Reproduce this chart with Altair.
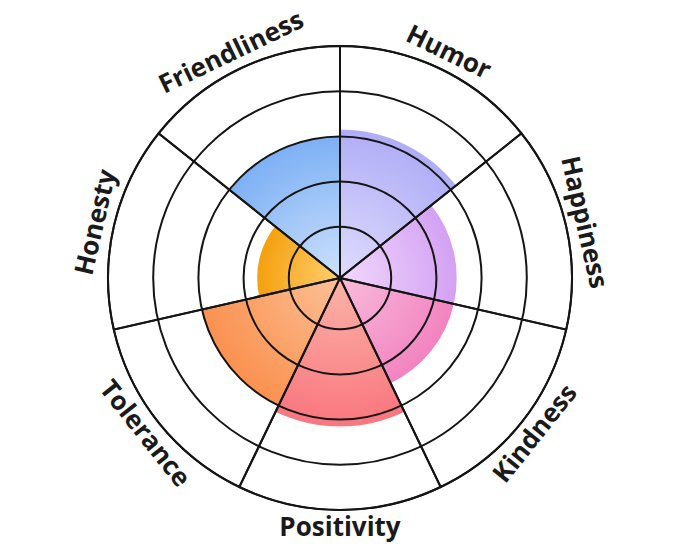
import math
import altair as alt
import pandas as pd

# ---- data ----
CATS = ["Humor", "Happiness", "Kindness", "Positivity", "Tolerance", "Honesty", "Friendliness"]
VALUES = [3.15, 2.45, 2.45, 3.15, 3.0, 1.7, 3.0]
INNER = ["#dfdcfd", "#f1d8fc", "#f8bcdc", "#fbb3a8", "#fcc095", "#ffd070", "#cde1fc"]
OUTER = ["#b0adf6", "#d3a1f3", "#f283c0", "#f9777f", "#fa9150", "#f5a00e", "#7db0f4"]
RINGS = [1, 2, 3, 4, 5]

N = len(CATS)
R_MIN, R_MAX = 6, 232
RMAX_VAL = 5
LABEL_R = 250
LINE = "#151515"

df = pd.DataFrame({
    "cat": CATS,
    "value": VALUES,
    "s0": list(range(N)),
    "s1": [i + 1 for i in range(N)],
    "mid": [i + 0.5 for i in range(N)],
    "full": [RMAX_VAL] * N,
})

# label rotation (tangent, upright)
rots = []
for i in range(N):
    a = (i + 0.5) * 360 / N
    if a <= 90 or a >= 270:
        r = a
    else:
        r = a - 180
    rots.append(r % 360)
df["rot"] = rots

theta_scale = alt.Scale(domain=[0, N], range=[0, 2 * math.pi])
r_scale = alt.Scale(type="linear", domain=[0, RMAX_VAL], range=[R_MIN, R_MAX])


def px(v):
    return R_MIN + (R_MAX - R_MIN) * v / RMAX_VAL


def gradient_for(i, v):
    r = px(v)
    a0 = i * 2 * math.pi / N
    a1 = (i + 1) * 2 * math.pi / N
    pts = [(0.0, 0.0)]
    for a in [a0, a1] + [k * math.pi / 2 for k in range(5) if a0 < k * math.pi / 2 < a1]:
        pts.append((r * math.sin(a), -r * math.cos(a)))
    xs = [p[0] for p in pts]
    ys = [p[1] for p in pts]
    xmin, xmax, ymin, ymax = min(xs), max(xs), min(ys), max(ys)
    w, h = xmax - xmin, ymax - ymin
    S = max(w, h)
    u = 0.5 + (0 - (xmin + xmax) / 2) / S
    vv = 0.5 + (0 - (ymin + ymax) / 2) / S
    return alt.RadialGradient(
        gradient="radial",
        stops=[alt.GradientStop(offset=0, color=INNER[i]),
               alt.GradientStop(offset=1, color=OUTER[i])],
        x1=u, y1=vv, r1=0, x2=u, y2=vv, r2=r / S,
    )


layers = []
for i, c in enumerate(CATS):
    layers.append(
        alt.Chart(df)
        .transform_filter(alt.datum.cat == c)
        .mark_arc(fill=gradient_for(i, VALUES[i]), strokeWidth=0)
        .encode(
            theta=alt.Theta("s0:Q", scale=theta_scale),
            theta2="s1:Q",
            radius=alt.Radius("value:Q", scale=r_scale, stack=None),
            radius2=alt.value(0),
        )
    )

rings = (
    alt.Chart(pd.DataFrame({"ring": RINGS}))
    .mark_arc(filled=False, stroke=LINE, strokeWidth=2, theta=0, theta2=2 * math.pi)
    .encode(radius=alt.Radius("ring:Q", scale=r_scale, stack=None),
            radius2=alt.value(0))
)

spokes = (
    alt.Chart(df)
    .mark_arc(filled=False, stroke=LINE, strokeWidth=2)
    .encode(
        theta=alt.Theta("s0:Q", scale=theta_scale),
        theta2="s1:Q",
        radius=alt.Radius("full:Q", scale=r_scale, stack=None),
        radius2=alt.value(0),
    )
)

labels = (
    alt.Chart(df)
    .mark_text(font="Open Sans", fontWeight="bold", fontSize=26, color="#1a1a1a",
               align="center", baseline="middle")
    .encode(
        theta=alt.Theta("mid:Q", scale=theta_scale),
        radius=alt.value(LABEL_R),
        text="cat:N",
        angle=alt.Angle("rot:Q", scale=None),
    )
)

chart = (
    alt.layer(*layers, rings, spokes, labels)
    .properties(width=664, height=540, autosize="none", padding=0)
    .configure_view(stroke=None)
)

chart.save("out.html", embed_options={"renderer": "svg", "actions": False})
